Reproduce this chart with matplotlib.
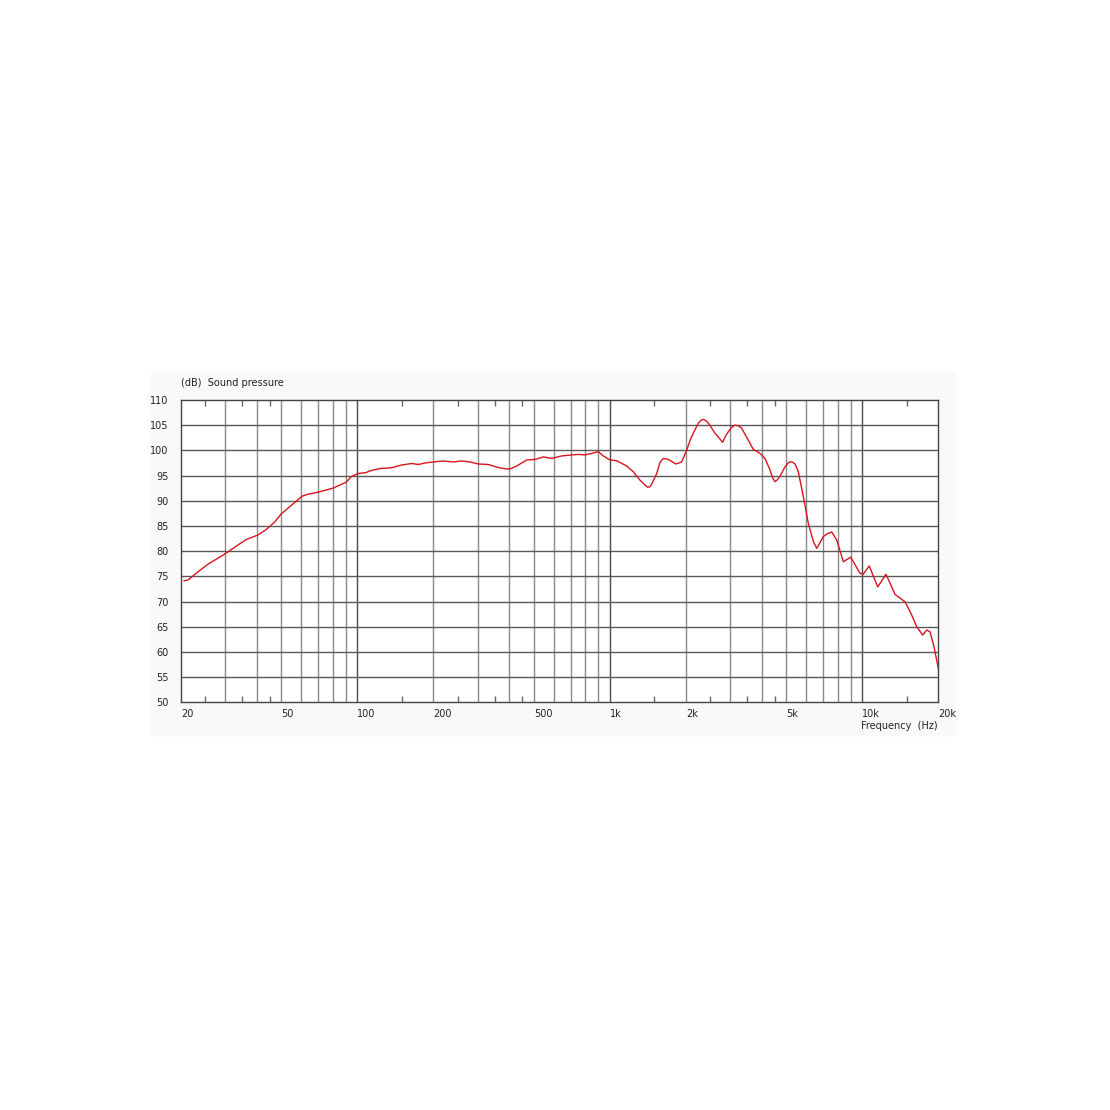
import numpy as np
import matplotlib.pyplot as plt
from matplotlib.patches import Rectangle

# frequency response (Hz, dB)
freq = [20.6, 21.4, 23.4, 25.6, 29.8, 33.2, 36.3, 40.4, 43.6, 47.1, 50, 54.8,
        57.3, 60.4, 63.8, 69.9, 80.1, 90.5, 94.7, 100.6, 108.6, 112.3, 123.0,
        136.8, 149.9, 164.3, 174.5, 185.5, 200, 219, 240, 259, 279.6, 301.5,
        330.3, 361.9, 390.6, 402.6, 427.9, 468.7, 505.6, 545.4, 588.9, 645,
        706.6, 750.4, 797.7, 848, 900.6, 942.6, 1002, 1065, 1167, 1239, 1317,
        1380, 1413, 1440, 1465, 1534, 1580, 1629, 1705, 1829, 1926, 2017, 2080,
        2141, 2242, 2300, 2347, 2400, 2457, 2611, 2801, 2870, 2947, 3040, 3132,
        3230, 3328, 3535, 3701, 3935, 4119, 4312, 4420, 4513, 4620, 4724,
        4944, 5100, 5256, 5417, 5582, 5842, 6115, 6400, 6600, 7010, 7300, 7566,
        7919, 8412, 8997, 9796, 10093, 10660, 11510, 12416, 13000, 13480,
        14767, 15600, 16429, 17352, 17998, 18546, 19232, 20000]
spl = [74.1, 74.3, 75.9, 77.4, 79.4, 81.0, 82.3, 83.2, 84.3, 85.8, 87.4, 89.1,
       89.9, 90.9, 91.3, 91.7, 92.5, 93.7, 94.8, 95.4, 95.6, 95.95, 96.4,
       96.55, 97.1, 97.4, 97.2, 97.5, 97.7, 97.9, 97.7, 97.9, 97.7, 97.3,
       97.2, 96.6, 96.3, 96.3, 96.9, 98.1, 98.2, 98.7, 98.4, 98.9,
       99.1, 99.2, 99.1, 99.4, 99.75, 98.9, 98.1, 97.95, 96.9, 95.75, 94.1,
       93.1, 92.7, 92.75, 93.3, 95.4, 97.6, 98.4, 98.2, 97.3, 97.7, 100.05, 102.0,
       103.4, 105.4, 106.0, 106.15, 105.9, 105.4, 103.4, 101.6, 102.8, 103.7, 104.6, 105.0,
       104.9, 104.4, 102.05, 100.2, 99.4, 98.4, 96.1, 94.5, 93.8, 94.2, 94.9,
       96.75, 97.6, 97.75, 97.3, 95.75, 90.8, 85.5, 81.9, 80.55, 82.9, 83.5, 83.8,
       82.2, 77.9, 78.8, 75.6, 75.45, 77.05, 72.9, 75.4, 73.2, 71.4,
       69.95, 67.6, 65.0, 63.35, 64.35, 64.0, 61.0, 56.75]

tick_freqs = [20, 50, 100, 200, 500, 1000, 2000, 5000, 10000, 20000]
tick_labels = ['20', '50', '100', '200', '500', '1k', '2k', '5k', '10k', '20k']
minor_freqs = [25, 35, 45, 150, 250, 350, 450, 1500, 2500, 3500, 4500, 15000]
db_ticks = list(range(50, 115, 5))

plt.rcParams['font.family'] = ['DejaVu Sans']
fig = plt.figure(figsize=(11.1, 11.1), dpi=100)
fig.patches.append(Rectangle((150 / 1110, 1 - 735 / 1110), 805 / 1110, 362 / 1110,
                             transform=fig.transFigure, color='#f9f9f9', zorder=-1))
ax = fig.add_axes([180.8 / 1110, 1 - 702.3 / 1110, 757.5 / 1110, 302.3 / 1110])
ax.set_facecolor('white')
ax.set_xscale('log')
ax.set_xlim(20, 20000)
ax.set_ylim(50, 110)

# grid
for d in (10, 100, 1000):
    for k in range(2, 10):
        f = k * d
        if f == 20:
            continue
        ax.axvline(f, color='#8a8a8a', lw=1, zorder=1)
for f in (100, 1000, 10000):
    ax.axvline(f, color='#4a4a4a', lw=1, zorder=1)
for v in db_ticks[1:-1]:
    ax.axhline(v, color='#5a5a5a', lw=1, zorder=1)

ax.plot(freq, spl, color='#d8141e', lw=1, zorder=3)

ax.set_xticks(tick_freqs)
ax.set_xticklabels(tick_labels, ha='left')
ax.set_xticks(minor_freqs, minor=True)
ax.xaxis.set_minor_formatter(plt.NullFormatter())
ax.tick_params(axis='x', which='major', length=0, pad=5, labelsize=7, colors='#222222')
ax.tick_params(axis='x', which='minor', direction='in', length=4, top=True, bottom=True,
               color='#666666', width=1)
ax.set_yticks(db_ticks)
ax.tick_params(axis='y', length=0, pad=9, labelsize=7, colors='#222222')
for s in ax.spines.values():
    s.set_color('#444444')
    s.set_linewidth(1)

fig.text(181 / 1110, 1 - 383.3 / 1110, '(dB)  Sound pressure', fontsize=7,
         va='center', ha='left', color='#222222')
fig.text(938 / 1110, 1 - 726 / 1110, 'Frequency  (Hz)', fontsize=7,
         va='center', ha='right', color='#222222')

fig.savefig('out.png', dpi=100)
